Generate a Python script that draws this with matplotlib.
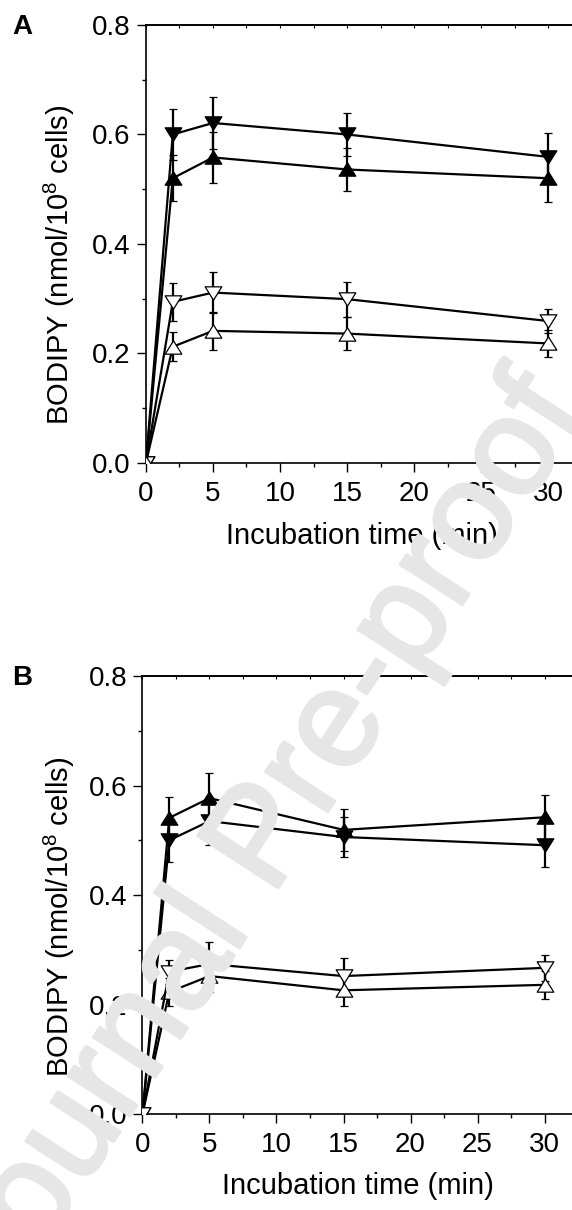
import matplotlib
matplotlib.use("Agg")
import matplotlib.pyplot as plt
import matplotlib.patheffects as pe
from matplotlib.path import Path
from matplotlib.ticker import MultipleLocator, FormatStrFormatter

plt.rcParams['font.family'] = ['Liberation Sans', 'DejaVu Sans']
plt.rcParams['mathtext.fontset'] = 'custom'
plt.rcParams['mathtext.rm'] = 'Liberation Sans'

# incubation times (min)
time = [0, 2, 5, 15, 30]

# panel A
a_fill_down = [0, 0.600, 0.621, 0.600, 0.559]
a_fill_down_err = [0, 0.046, 0.048, 0.040, 0.043]
a_fill_up = [0, 0.520, 0.558, 0.536, 0.520]
a_fill_up_err = [0, 0.042, 0.046, 0.039, 0.043]
a_open_down = [0, 0.294, 0.311, 0.299, 0.259]
a_open_down_err = [0, 0.035, 0.037, 0.032, 0.022]
a_open_up = [0, 0.212, 0.241, 0.236, 0.218]
a_open_up_err = [0, 0.027, 0.035, 0.030, 0.024]

# panel B
b_fill_up = [0, 0.541, 0.577, 0.519, 0.542]
b_fill_up_err = [0, 0.038, 0.046, 0.038, 0.041]
b_fill_down = [0, 0.500, 0.535, 0.506, 0.491]
b_fill_down_err = [0, 0.040, 0.044, 0.037, 0.040]
b_open_up = [0, 0.223, 0.252, 0.226, 0.236]
b_open_up_err = [0, 0.026, 0.030, 0.029, 0.025]
b_open_down = [0, 0.260, 0.274, 0.252, 0.267]
b_open_down_err = [0, 0.022, 0.041, 0.033, 0.024]

x_ticks = [0, 5, 10, 15, 20, 25, 30]
y_ticks = [0.0, 0.2, 0.4, 0.6, 0.8]

# slightly squashed triangles, like the original
TRI_UP = Path([(0, 0.8), (-1, -0.8), (1, -0.8), (0, 0.8)], closed=True)
TRI_DOWN = Path([(0, -0.8), (-1, 0.8), (1, 0.8), (0, -0.8)], closed=True)


def draw_series(ax, y, err, marker, filled):
    ax.errorbar(time, y, yerr=err, color='black', lw=1.6,
                marker=marker, ms=12,
                mfc='black' if filled else 'white', mec='black', mew=0.9,
                ecolor='black', elinewidth=1.6, capsize=2.6, capthick=2.0,
                zorder=3)


def style_axes(ax):
    ax.set_xlim(0, 32.2)
    ax.set_ylim(0, 0.8)
    ax.set_xticks(x_ticks)
    ax.set_yticks(y_ticks)
    ax.xaxis.set_minor_locator(MultipleLocator(2.5))
    ax.yaxis.set_minor_locator(MultipleLocator(0.1))
    ax.yaxis.set_major_formatter(FormatStrFormatter('%.1f'))
    ax.tick_params(which='major', direction='out', length=6.5, width=1.0,
                   labelsize=20)
    ax.tick_params(axis='x', which='major', pad=6.5)
    ax.tick_params(axis='y', which='major', pad=4.5)
    ax.tick_params(which='minor', direction='out', length=3, width=1.0)
    for s in ax.spines.values():
        s.set_linewidth(1.2)
    top = ax.secondary_xaxis('top')
    top.set_xticks(x_ticks)
    top.xaxis.set_minor_locator(MultipleLocator(2.5))
    top.tick_params(which='both', direction='in', length=2, width=0.8,
                    labeltop=False)
    top.spines['top'].set_linewidth(1.2)
    ax.set_xlabel('Incubation time (min)', fontsize=21)
    ax.set_ylabel('BODIPY (nmol/10$^{8}$ cells)', fontsize=21)


fig = plt.figure(figsize=(5.72, 12.1), dpi=100)
ax_a = fig.add_axes([0.2552, 0.6176, 0.7545, 0.3617])
ax_b = fig.add_axes([0.2491, 0.0793, 0.7544, 0.3620])

draw_series(ax_a, a_fill_down, a_fill_down_err, TRI_DOWN, True)
draw_series(ax_a, a_fill_up, a_fill_up_err, TRI_UP, True)
draw_series(ax_a, a_open_down, a_open_down_err, TRI_DOWN, False)
draw_series(ax_a, a_open_up, a_open_up_err, TRI_UP, False)

draw_series(ax_b, b_fill_up, b_fill_up_err, TRI_UP, True)
draw_series(ax_b, b_fill_down, b_fill_down_err, TRI_DOWN, True)
draw_series(ax_b, b_open_up, b_open_up_err, TRI_UP, False)
draw_series(ax_b, b_open_down, b_open_down_err, TRI_DOWN, False)

style_axes(ax_a)
style_axes(ax_b)
ax_a.xaxis.set_label_coords(0.5, -0.135)
ax_b.xaxis.set_label_coords(0.5, -0.132)
ax_a.yaxis.set_label_coords(-0.16, 0.452)
ax_b.yaxis.set_label_coords(-0.151, 0.45)

fig.text(0.0393, 0.9719, 'A', fontsize=20, fontweight='bold',
         ha='center', va='baseline')
fig.text(0.0393, 0.4339, 'B', fontsize=20, fontweight='bold',
         ha='center', va='baseline')

# journal watermark
fig.text(0.463, 0.304, 'Journal Pre-proof', fontsize=100, color='#e6e6e6',
         rotation=57, rotation_mode='anchor', ha='center', va='center',
         zorder=10,
         path_effects=[pe.withStroke(linewidth=2.5, foreground='#e6e6e6')])

fig.savefig('out.png', dpi=100)
plt.close(fig)
